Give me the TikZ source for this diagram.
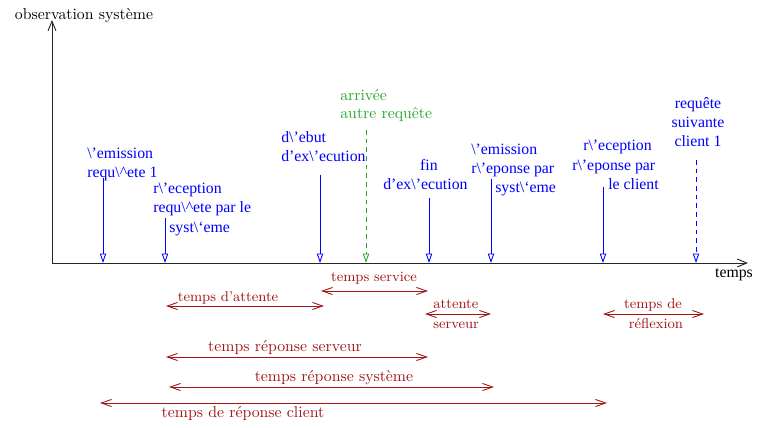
\documentclass[tikz,border=0pt]{standalone}
\usepackage{fontspec}
\newfontfamily\tmsfont[Ligatures=TeX]{Liberation Serif}
\usetikzlibrary{arrows.meta}
\definecolor{evblue}{RGB}{0,0,255}
\definecolor{durred}{RGB}{160,20,20}
\definecolor{arrgreen}{RGB}{40,165,40}
\tikzset{
  axisline/.style={draw=black!85, line width=0.6pt, -{Straight Barb[length=6pt,width=5pt]}},
  evarrow/.style={draw=evblue, line width=0.55pt, -{Triangle[open,length=6pt,width=4pt]}},
  evdashed/.style={evarrow, dashed, dash pattern=on 3pt off 2.5pt},
  grarrow/.style={draw=arrgreen, line width=0.55pt, dashed, dash pattern=on 3pt off 2.5pt, -{Triangle[open,length=6pt,width=4pt]}},
  durarrow/.style={draw=durred, line width=0.55pt, {Straight Barb[length=6.5pt,width=4.5pt]}-{Straight Barb[length=6.5pt,width=4.5pt]}},
  bltext/.style={text=evblue, font=\tmsfont\fontsize{10}{12}\selectfont, inner sep=0pt},
  grtext/.style={text=arrgreen, font=\fontsize{10}{12}\selectfont, inner sep=0pt, anchor=mid west},
  rdtext/.style={text=durred, font=\fontsize{10}{12}\selectfont, inner sep=0pt, anchor=mid},
  rdsmall/.style={text=durred, font=\fontsize{9}{11}\selectfont, inner sep=0pt},
}
\begin{document}
\begin{tikzpicture}[x=0.633pt,y=-0.633pt]
\useasboundingbox (0,0) rectangle (760,427);
% axes
\coordinate (O) at (52,263);
\coordinate (Ytop) at (52,20);
\coordinate (Xend) at (748,263);
\draw[axisline] (O) -- (Ytop);
\draw[axisline] (O) -- (Xend);
\node[inner sep=0pt, font=\fontsize{10}{12}\selectfont, anchor=mid] (ylab) at (84,16) {observation syst\`eme};
\node[inner sep=0pt, font=\tmsfont\fontsize{10}{12}\selectfont, anchor=mid] (xlab) at (734,274) {temps};

% event arrows
\coordinate (e1t) at (103,178); \coordinate (e1b) at (103,263);
\coordinate (e2t) at (165,218); \coordinate (e2b) at (165,263);
\coordinate (e3t) at (320,175); \coordinate (e3b) at (320,263);
\coordinate (e4t) at (366,130); \coordinate (e4b) at (366,263);
\coordinate (e5t) at (429,198); \coordinate (e5b) at (429,263);
\coordinate (e6t) at (491,179); \coordinate (e6b) at (491,263);
\coordinate (e7t) at (603,187); \coordinate (e7b) at (603,263);
\coordinate (e8t) at (696,160); \coordinate (e8b) at (696,263);
\draw[evarrow] (e1t) -- (e1b);
\draw[evarrow] (e2t) -- (e2b);
\draw[evarrow] (e3t) -- (e3b);
\draw[grarrow] (e4t) -- (e4b);
\draw[evarrow] (e5t) -- (e5b);
\draw[evarrow] (e6t) -- (e6b);
\draw[evarrow] (e7t) -- (e7b);
\draw[evdashed] (e8t) -- (e8b);

% event labels
\node[bltext, anchor=mid west] (l1a) at (87,155) {\textbackslash'emission};
\node[bltext, anchor=mid west] (l1b) at (87,174) {requ\textbackslash\textasciicircum ete 1};
\node[bltext, anchor=mid west] (l2a) at (153,190) {r\textbackslash'eception};
\node[bltext, anchor=mid west] (l2b) at (153,209) {requ\textbackslash\textasciicircum ete par le};
\node[bltext, anchor=mid west] (l2c) at (169,229) {syst\textbackslash`eme};
\node[bltext, anchor=mid west] (l3a) at (281,139) {d\textbackslash'ebut};
\node[bltext, anchor=mid west] (l3b) at (281,158) {d'ex\textbackslash'ecution};
\node[grtext] (l4a) at (340,97) {arriv\'ee};
\node[grtext] (l4b) at (340,115) {autre requ\^ete};
\node[bltext, anchor=mid] (l5a) at (429,167) {fin};
\node[bltext, anchor=mid west] (l5b) at (383,186) {d'ex\textbackslash'ecution};
\node[bltext, anchor=mid west] (l6a) at (471,151) {\textbackslash'emission};
\node[bltext, anchor=mid west] (l6b) at (471,170) {r\textbackslash'eponse par};
\node[bltext, anchor=mid west] (l6c) at (495,189) {syst\textbackslash`eme};
\node[bltext, anchor=mid west] (l7a) at (583,147) {r\textbackslash'eception};
\node[bltext, anchor=mid west] (l7b) at (572,167) {r\textbackslash'eponse par};
\node[bltext, anchor=mid west] (l7c) at (608,186) {le client};
\node[bltext, anchor=mid] (l8a) at (698,105) {requ\^ete};
\node[bltext, anchor=mid] (l8b) at (698,124) {suivante};
\node[bltext, anchor=mid] (l8c) at (698,143) {client 1};

% durations
\coordinate (s1) at (321,291); \coordinate (s2) at (428,291);
\coordinate (w1) at (166,306); \coordinate (w2) at (324,306);
\coordinate (as1) at (425,314); \coordinate (as2) at (491,314);
\coordinate (r1) at (603,314); \coordinate (r2) at (704,314);
\coordinate (rs1) at (166,357); \coordinate (rs2) at (428,357);
\coordinate (ry1) at (169,387); \coordinate (ry2) at (494,387);
\coordinate (rc1) at (100,403); \coordinate (rc2) at (607,403);
\draw[durarrow] (s1) -- (s2);
\draw[durarrow] (w1) -- (w2);
\draw[durarrow] (as1) -- (as2);
\draw[durarrow] (r1) -- (r2);
\draw[durarrow] (rs1) -- (rs2);
\draw[durarrow] (ry1) -- (ry2);
\draw[durarrow] (rc1) -- (rc2);

\node[rdsmall, anchor=mid] (d1) at (374,278) {temps service};
\node[rdsmall, anchor=mid] (d2) at (228,298) {temps d'attente};
\node[rdsmall, anchor=mid west] (d3a) at (433,305) {attente};
\node[rdsmall, anchor=mid west] (d3b) at (433,325) {serveur};
\node[rdsmall, anchor=mid] (d4a) at (653,305) {temps de};
\node[rdsmall, anchor=mid] (d4b) at (656,325) {r\'eflexion};
\node[rdtext] (d5) at (285,348) {temps r\'eponse serveur};
\node[rdtext] (d6) at (334,378) {temps r\'eponse syst\`eme};
\node[rdtext] (d7) at (243,414) {temps de r\'eponse client};
\end{tikzpicture}
\end{document}
